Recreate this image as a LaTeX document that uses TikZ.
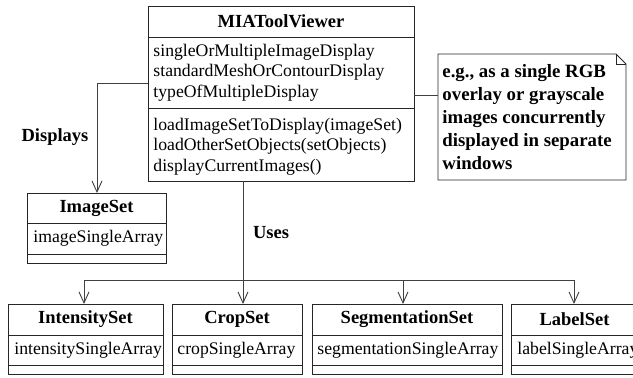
\documentclass[tikz,border=0pt]{standalone}
\usepackage{fontspec}
\setmainfont{Liberation Serif}
\usetikzlibrary{arrows.meta}
\begin{document}
\begin{tikzpicture}[x=1pt,y=-1pt,
  line width=0.9pt,
  frame/.style={draw=black!85},
  link/.style={draw=black!75},
  dep/.style={link,-{Straight Barb[length=11pt,width=10pt,line width=0.9pt]}},
  ttl/.style={inner sep=0pt,font=\fontsize{18.5}{20}\selectfont\bfseries},
  body/.style={inner sep=0pt,anchor=west,align=left,font=\fontsize{17.7}{20.5}\selectfont},
  notetxt/.style={inner sep=0pt,anchor=west,align=left,font=\fontsize{18.8}{23}\selectfont\bfseries},
  lbl/.style={inner sep=0pt,font=\fontsize{18.5}{20}\selectfont\bfseries}]
\useasboundingbox (0,0) rectangle (633,378);
\clip (0,0) rectangle (633,378);

% MIAToolViewer class
\draw[frame] (148,6) rectangle (414,181);
\draw[frame] (148,37) -- (414,37) (148,108) -- (414,108);
\node[ttl] (viewer) at (281,21.5) {MIAToolViewer};
\node[body] (viewerattr) at (153,72.5) {singleOrMultipleImageDisplay\\standardMeshOrContourDisplay\\typeOfMultipleDisplay};
\node[body] (viewerops) at (153,146.5) {loadImageSetToDisplay(imageSet)\\loadOtherSetObjects(setObjects)\\displayCurrentImages()};
\coordinate (viewerW) at (148,83);
\coordinate (viewerE) at (414,95);
\coordinate (viewerS) at (243,181);

% note attached to the viewer
\draw[frame] (438,54) -- (616,54) -- (626,64) -- (626,180) -- (438,180) -- cycle;
\draw[frame] (616,54) -- (616,64) -- (626,64);
\node[notetxt] (note) at (442,117) {e.g., as a single RGB\\overlay or grayscale\\images concurrently\\displayed in separate\\windows};
\coordinate (noteW) at (438,95);
\draw[link] (viewerE) -- (noteW);

% ImageSet class
\draw[frame] (27,193) rectangle (166,263);
\draw[frame] (27,223) -- (166,223) (27,254) -- (166,254);
\node[ttl] (imageset) at (96.5,208) {ImageSet};
\node[body] (imageattr) at (33,238.5) {imageSingleArray};
\coordinate (imagesetN) at (97,193);

% Displays association
\draw[dep] (viewerW) -| (imagesetN);
\node[lbl] (displays) at (55,137) {Displays};

% bottom row of classes
\draw[frame] (8,304) rectangle (163,374);
\draw[frame] (8,335) -- (163,335) (8,365) -- (163,365);
\node[ttl] (intensity) at (85.5,319.5) {IntensitySet};
\node[body] (intensityattr) at (14,350) {intensitySingleArray};
\coordinate (intensityN) at (84,304);

\draw[frame] (172,304) rectangle (302,374);
\draw[frame] (172,335) -- (302,335) (172,365) -- (302,365);
\node[ttl] (crop) at (237,319.5) {CropSet};
\node[body] (cropattr) at (177,350) {cropSingleArray};
\coordinate (cropN) at (243,304);

\draw[frame] (312,304) rectangle (502,374);
\draw[frame] (312,335) -- (502,335) (312,365) -- (502,365);
\node[ttl] (segment) at (407,319.5) {SegmentationSet};
\node[body] (segmentattr) at (317,350) {segmentationSingleArray};
\coordinate (segmentN) at (403,304);

\draw[frame] (511,304) rectangle (638,374);
\draw[frame] (511,335) -- (638,335) (511,365) -- (638,365);
\node[ttl] (label) at (574.5,319.5) {LabelSet};
\node[body] (labelattr) at (517,350) {labelSingleArray};
\coordinate (labelN) at (574,304);

% Uses association with its branches
\coordinate (fork) at (243,280);
\draw[dep] (viewerS) -- (cropN);
\draw[dep] (fork) -| (intensityN);
\draw[dep] (fork) -| (segmentN);
\draw[dep] (fork) -| (labelN);
\node[lbl] (uses) at (271,233) {Uses};
\end{tikzpicture}
\end{document}
